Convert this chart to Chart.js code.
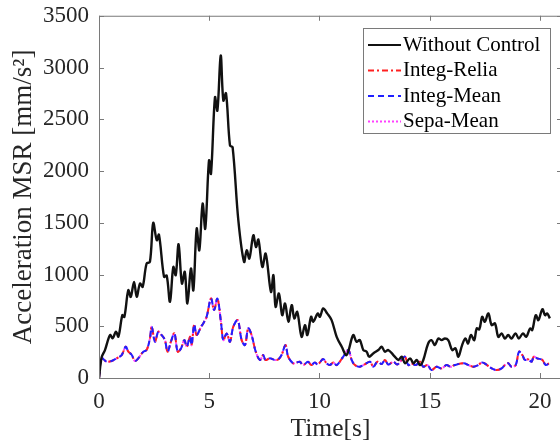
<!DOCTYPE html>
<html>
<head>
<meta charset="utf-8">
<script src="https://cdn.jsdelivr.net/npm/chart.js@4.4.0/dist/chart.umd.min.js"></script>
<style>
  html, body { margin: 0; padding: 0; background: #fff; overflow: hidden; }
  #wrap { width: 600px; height: 445px; }
</style>
</head>
<body>
<div id="wrap"><canvas id="accChart" width="600" height="445"></canvas></div>
<script>
// time [s] and acceleration MSR [mm/s^2]
const uncontrolledT = [0, 0.12, 0.27, 0.5, 0.62, 0.77, 0.88, 1.06, 1.15, 1.33, 1.44, 1.59, 1.71, 1.86, 1.98,
  2.16, 2.31, 2.46, 2.62, 2.72, 2.95, 3.07, 3.22, 3.37, 3.48, 3.61, 3.76, 3.89, 4.01, 4.17, 4.28, 4.43, 4.55,
  4.70, 4.82, 4.99, 5.08, 5.26, 5.37, 5.52, 5.64, 5.76, 5.94, 6.06, 6.32, 6.58, 6.70, 6.82, 7.00, 7.12, 7.23,
  7.41, 7.56, 7.80, 7.91, 8.01, 8.16, 8.31, 8.44, 8.59, 8.74, 8.86, 8.99, 9.19, 9.34, 9.45, 9.62, 9.72, 9.92,
  10.02, 10.17, 10.35, 10.55, 10.78, 11.01, 11.23, 11.53, 11.68, 11.83, 11.99, 12.14, 12.25, 12.45, 12.67,
  12.82, 12.97, 13.12, 13.35, 13.58, 13.73, 13.88, 14.11, 14.26, 14.41, 14.56, 14.71, 14.93, 15.08, 15.23,
  15.39, 15.54, 15.69, 15.84, 16.02, 16.17, 16.30, 16.47, 16.62, 16.74, 16.87, 17.02, 17.13, 17.25, 17.38,
  17.50, 17.66, 17.81, 17.96, 18.11, 18.26, 18.41, 18.56, 18.71, 18.89, 19.04, 19.23, 19.38, 19.55, 19.65,
  19.81, 19.93, 20.11, 20.23, 20.33, 20.45];
const uncontrolledV = [0, 200, 270, 415, 385, 447, 400, 607, 590, 848, 784, 929, 784, 913, 881,
  1106, 1122, 1498, 1331, 1385, 977, 990, 736, 1073, 993, 1292, 913, 1025, 720, 1057, 848, 1443, 1234,
  1684, 1443, 2102, 1974, 2712, 2584, 3115, 2681, 2751, 2247, 2230, 1524, 1122, 1234, 1154, 1379, 1266, 1337,
  1073, 1202, 832, 993, 688, 817, 607, 720, 543, 704, 576, 639, 398, 511, 415, 591, 543, 624,
  591, 672, 624, 559, 398, 302, 222, 415, 350, 366, 270, 254, 206, 240, 270,
  302, 254, 270, 222, 174, 206, 142, 190, 142, 174, 125, 174, 334, 366, 318,
  382, 366, 382, 366, 270, 286, 206, 318, 382, 334, 415, 366, 479, 470, 591,
  543, 624, 511, 527, 398, 431, 382, 415, 382, 431, 382, 431, 398, 479, 463,
  607, 559, 665, 607, 624, 576];

// the three controlled cases lie on top of each other in the picture
const controlledT = [0, 0.12, 0.35, 0.57, 0.80, 1.03, 1.21, 1.33, 1.48, 1.63, 1.78, 2.01, 2.16, 2.31, 2.39,
  2.54, 2.69, 2.84, 2.99, 3.11, 3.26, 3.42, 3.57, 3.72, 3.87, 3.98, 4.13, 4.20, 4.32, 4.43, 4.63, 4.73, 4.88,
  5.08, 5.22, 5.37, 5.53, 5.64, 5.79, 5.94, 6.09, 6.29, 6.47, 6.62, 6.77, 6.92, 7.11, 7.30, 7.45, 7.55, 7.75,
  7.98, 8.13, 8.28, 8.46, 8.58, 8.81, 8.96, 9.11, 9.26, 9.48, 9.63, 9.78, 9.93, 10.17, 10.32, 10.47, 10.62,
  10.78, 11.08, 11.31, 11.46, 11.61, 11.83, 12.06, 12.29, 12.44, 12.63, 12.82, 12.97, 13.12, 13.35, 13.52,
  13.73, 13.88, 14.03, 14.18, 14.37, 14.56, 14.71, 14.90, 15.08, 15.31, 15.54, 15.76, 15.95, 16.13, 16.55,
  16.76, 16.98, 17.2, 17.38, 17.6, 17.81, 18.04, 18.26, 18.41, 18.56, 18.71, 18.9, 19.05, 19.20, 19.32,
  19.47, 19.62, 19.72, 19.87, 20.11, 20.26, 20.41, 20.45];
const integReliaV = [0, 190, 157, 164, 190, 222, 302, 254, 225, 164, 190, 254, 270, 382, 495,
  350, 447, 415, 366, 254, 350, 431, 254, 286, 366, 302, 398, 318, 518, 415, 495, 527, 591,
  768, 656, 768, 543, 366, 431, 350, 495, 559, 366, 318, 479, 415, 254, 174, 222, 174, 190,
  174, 180, 222, 318, 206, 142, 150, 157, 125, 157, 125, 150, 133, 183, 142, 125, 150,
  125, 206, 270, 174, 125, 109, 133, 157, 109, 157, 135, 174, 130, 157, 130,
  174, 206, 125, 140, 125, 157, 109, 125, 77, 109, 93, 125, 109, 125, 142,
  125, 109, 125, 150, 125, 93, 77, 93, 125, 142, 109, 125, 254, 222, 174,
  180, 157, 206, 190, 174, 125, 142, 145];
const integMeanV = integReliaV.slice();
const sepaMeanV = integReliaV.slice();

const seriesNames = ['Without Control', 'Integ-Relia', 'Integ-Mean', 'Sepa-Mean'];
const xTicks = [0, 5, 10, 15, 20];
const yTicks = [0, 500, 1000, 1500, 2000, 2500, 3000, 3500];

const serif = "'Liberation Serif', 'Times New Roman', serif";
const axisGray = '#7a7a7a';
const textColor = '#262626';

function toPoints(ts, vs) {
  return ts.map((t, i) => ({ x: t, y: vs[i] }));
}

// MATLAB-like box with inward ticks
const boxPlugin = {
  id: 'box',
  afterDraw(chart) {
    const { ctx, chartArea: a, scales } = chart;
    ctx.save();
    ctx.strokeStyle = axisGray;
    ctx.lineWidth = 1;
    ctx.strokeRect(a.left + 0.5, a.top + 0.5, a.right - a.left, a.bottom - a.top);
    ctx.beginPath();
    scales.x.ticks.forEach(t => {
      const px = Math.round(scales.x.getPixelForValue(t.value)) + 0.5;
      ctx.moveTo(px, a.bottom); ctx.lineTo(px, a.bottom - 5);
      ctx.moveTo(px, a.top); ctx.lineTo(px, a.top + 5);
    });
    scales.y.ticks.forEach(t => {
      const py = Math.round(scales.y.getPixelForValue(t.value)) + 0.5;
      ctx.moveTo(a.left, py); ctx.lineTo(a.left + 5, py);
      ctx.moveTo(a.right, py); ctx.lineTo(a.right - 5, py);
    });
    ctx.stroke();
    ctx.restore();
  }
};

// legend box inside the plot, top right
const legendPlugin = {
  id: 'insideLegend',
  afterDraw(chart) {
    const { ctx } = chart;
    const left = 363, top = 28, width = 187, height = 105;
    ctx.save();
    ctx.fillStyle = '#fff';
    ctx.fillRect(left, top, width, height);
    ctx.strokeStyle = axisGray;
    ctx.lineWidth = 1;
    ctx.strokeRect(left + 0.5, top + 0.5, width, height);
    ctx.font = '21px ' + serif;
    ctx.textBaseline = 'middle';
    chart.data.datasets.forEach((ds, i) => {
      const y = top + 17 + i * 25.5;
      ctx.strokeStyle = ds.borderColor;
      ctx.lineWidth = Math.min(ds.borderWidth, 2);
      ctx.setLineDash(ds.borderDash || []);
      ctx.beginPath();
      ctx.moveTo(left + 5, y);
      ctx.lineTo(left + 38, y);
      ctx.stroke();
      ctx.setLineDash([]);
      ctx.fillStyle = '#000';
      ctx.fillText(ds.label, left + 40, y);
    });
    ctx.restore();
  }
};

new Chart(document.getElementById('accChart'), {
  type: 'line',
  data: {
    datasets: [
      {
        label: seriesNames[0],
        data: toPoints(uncontrolledT, uncontrolledV),
        borderColor: '#111111',
        borderWidth: 2.4,
        order: 0
      },
      {
        label: seriesNames[1],
        data: toPoints(controlledT, integReliaV),
        borderColor: '#ff2020',
        borderWidth: 2,
        borderDash: [6, 3, 2, 3],
        order: 2
      },
      {
        label: seriesNames[2],
        data: toPoints(controlledT, integMeanV),
        borderColor: '#2020ff',
        borderWidth: 2,
        borderDash: [6, 4],
        order: 1
      },
      {
        label: seriesNames[3],
        data: toPoints(controlledT, sepaMeanV),
        borderColor: '#ff40ff',
        borderWidth: 2,
        borderDash: [2, 2],
        order: 3
      }
    ]
  },
  options: {
    responsive: false,
    animation: false,
    parsing: false,
    elements: {
      point: { radius: 0 },
      line: { tension: 0.35, fill: false }
    },
    layout: { padding: { left: 8, right: 38, top: 15, bottom: 0 } },
    plugins: {
      legend: { display: false },
      tooltip: { enabled: false }
    },
    scales: {
      x: {
        type: 'linear',
        min: 0,
        max: 21,
        afterBuildTicks: s => { s.ticks = xTicks.map(v => ({ value: v })); },
        afterFit: s => { s.height = 67; },
        grid: { display: false, drawTicks: false },
        border: { display: false },
        ticks: {
          padding: 10, color: textColor, font: { family: serif, size: 23 },
          callback: v => String(v)
        },
        title: {
          display: true,
          text: 'Time[s]',
          color: textColor,
          padding: 0,
          font: { family: serif, size: 25.5 }
        }
      },
      y: {
        type: 'linear',
        min: 0,
        max: 3500,
        afterBuildTicks: s => { s.ticks = yTicks.map(v => ({ value: v })); },
        afterFit: s => { s.width = 91; },
        grid: { display: false, drawTicks: false },
        border: { display: false },
        ticks: {
          padding: 10, color: textColor, font: { family: serif, size: 23, lineHeight: 0.5 },
          callback: v => String(v)
        },
        title: {
          display: true,
          text: 'Acceleration MSR [mm/s²]',
          color: textColor,
          padding: 0,
          font: { family: serif, size: 27 }
        }
      }
    }
  },
  plugins: [boxPlugin, legendPlugin]
});
</script>
</body>
</html>
